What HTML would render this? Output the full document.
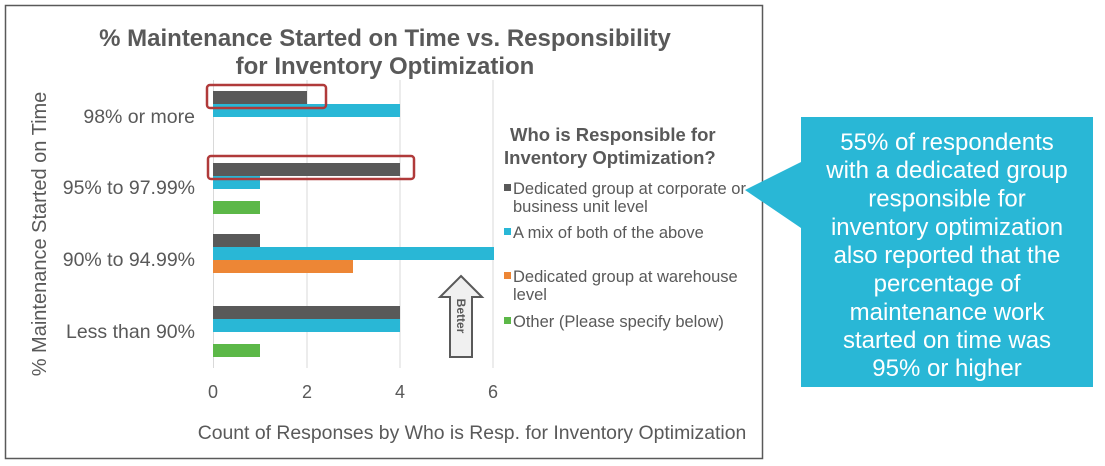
<!DOCTYPE html>
<html><head><meta charset="utf-8"><style>
body{margin:0;background:#fff;}
svg{display:block;font-family:"Liberation Sans",Arial,sans-serif;}
</style></head><body>
<svg width="1105" height="466" viewBox="0 0 1105 466">
<rect x="0" y="0" width="1105" height="466" fill="#fff"/>
<rect x="5.5" y="5.5" width="757" height="453" fill="#fff" stroke="#595959" stroke-width="1.5"/>
<text x="385" y="46" text-anchor="middle" font-size="24" font-weight="bold" fill="#595959">%  Maintenance Started on Time vs. Responsibility</text>
<text x="385" y="74" text-anchor="middle" font-size="24" font-weight="bold" fill="#595959">for Inventory Optimization</text>
<g stroke="#d9d9d9" stroke-width="1">
<line x1="213.5" y1="80" x2="213.5" y2="368"/>
<line x1="307" y1="80" x2="307" y2="368"/>
<line x1="400" y1="80" x2="400" y2="368"/>
<line x1="493" y1="80" x2="493" y2="368"/>
</g>
<rect x="213" y="91" width="94" height="13" fill="#595959"/>
<rect x="213" y="104" width="187" height="13" fill="#29b7d6"/>
<rect x="213" y="163" width="187" height="13" fill="#595959"/>
<rect x="213" y="176" width="47" height="13" fill="#29b7d6"/>
<rect x="213" y="201" width="47" height="13" fill="#5cb848"/>
<rect x="213" y="234" width="47" height="13" fill="#595959"/>
<rect x="213" y="247" width="281" height="13" fill="#29b7d6"/>
<rect x="213" y="260" width="140" height="13" fill="#ed8635"/>
<rect x="213" y="306" width="187" height="13" fill="#595959"/>
<rect x="213" y="319" width="187" height="13" fill="#29b7d6"/>
<rect x="213" y="344" width="47" height="13" fill="#5cb848"/>
<rect x="207" y="85" width="119" height="23" rx="3" fill="none" stroke="#b03a3a" stroke-width="2.5"/>
<rect x="208" y="156" width="206" height="23" rx="3" fill="none" stroke="#b03a3a" stroke-width="2.5"/>
<g font-size="19.5" fill="#595959" text-anchor="end">
<text x="195" y="123">98% or more</text>
<text x="195" y="194">95% to 97.99%</text>
<text x="195" y="266">90% to 94.99%</text>
<text x="195" y="338">Less than 90%</text>
</g>
<text transform="translate(46,234) rotate(-90)" text-anchor="middle" font-size="20" fill="#595959">% Maintenance Started on Time</text>
<g font-size="18" fill="#595959" text-anchor="middle">
<text x="213" y="398">0</text><text x="307" y="398">2</text><text x="400" y="398">4</text><text x="493" y="398">6</text>
</g>
<text x="472" y="439" text-anchor="middle" font-size="19.4" fill="#595959">Count of Responses by Who is Resp. for Inventory Optimization</text>
<polygon points="461,276 482,297 472,297 472,357 450,357 450,297 440,297" fill="#f0f0f0" stroke="#595959" stroke-width="2"/>
<text transform="translate(457,316) rotate(90)" text-anchor="middle" font-size="12" font-weight="bold" fill="#595959">Better</text>
<text x="510" y="141" font-size="18.5" font-weight="bold" fill="#595959">Who is Responsible for</text>
<text x="504" y="164" font-size="18.5" font-weight="bold" fill="#595959">Inventory Optimization?</text>
<g font-size="16.5" fill="#595959">
<rect x="504" y="184" width="7" height="7" fill="#595959"/>
<text x="513" y="194">Dedicated group at corporate or</text>
<text x="513" y="212">business unit level</text>
<rect x="504" y="228" width="7" height="7" fill="#29b7d6"/>
<text x="513" y="238">A mix of both of the above</text>
<rect x="504" y="272" width="7" height="7" fill="#ed8635"/>
<text x="513" y="282">Dedicated group at warehouse</text>
<text x="513" y="300">level</text>
<rect x="504" y="317" width="7" height="7" fill="#5cb848"/>
<text x="513" y="327">Other (Please specify below)</text>
</g>
<polygon points="801,117 1093,117 1093,387 801,387 801,228 745,190 801,162" fill="#29b7d6"/>
<g font-size="24" fill="#fff" text-anchor="middle">
<text x="947" y="150">55% of respondents</text>
<text x="947" y="178">with a dedicated group</text>
<text x="947" y="206.5">responsible for</text>
<text x="947" y="235">inventory optimization</text>
<text x="947" y="263">also reported that the</text>
<text x="947" y="291.5">percentage of</text>
<text x="947" y="320">maintenance work</text>
<text x="947" y="348">started on time was</text>
<text x="947" y="376">95% or higher</text>
</g>
</svg>
</body></html>
